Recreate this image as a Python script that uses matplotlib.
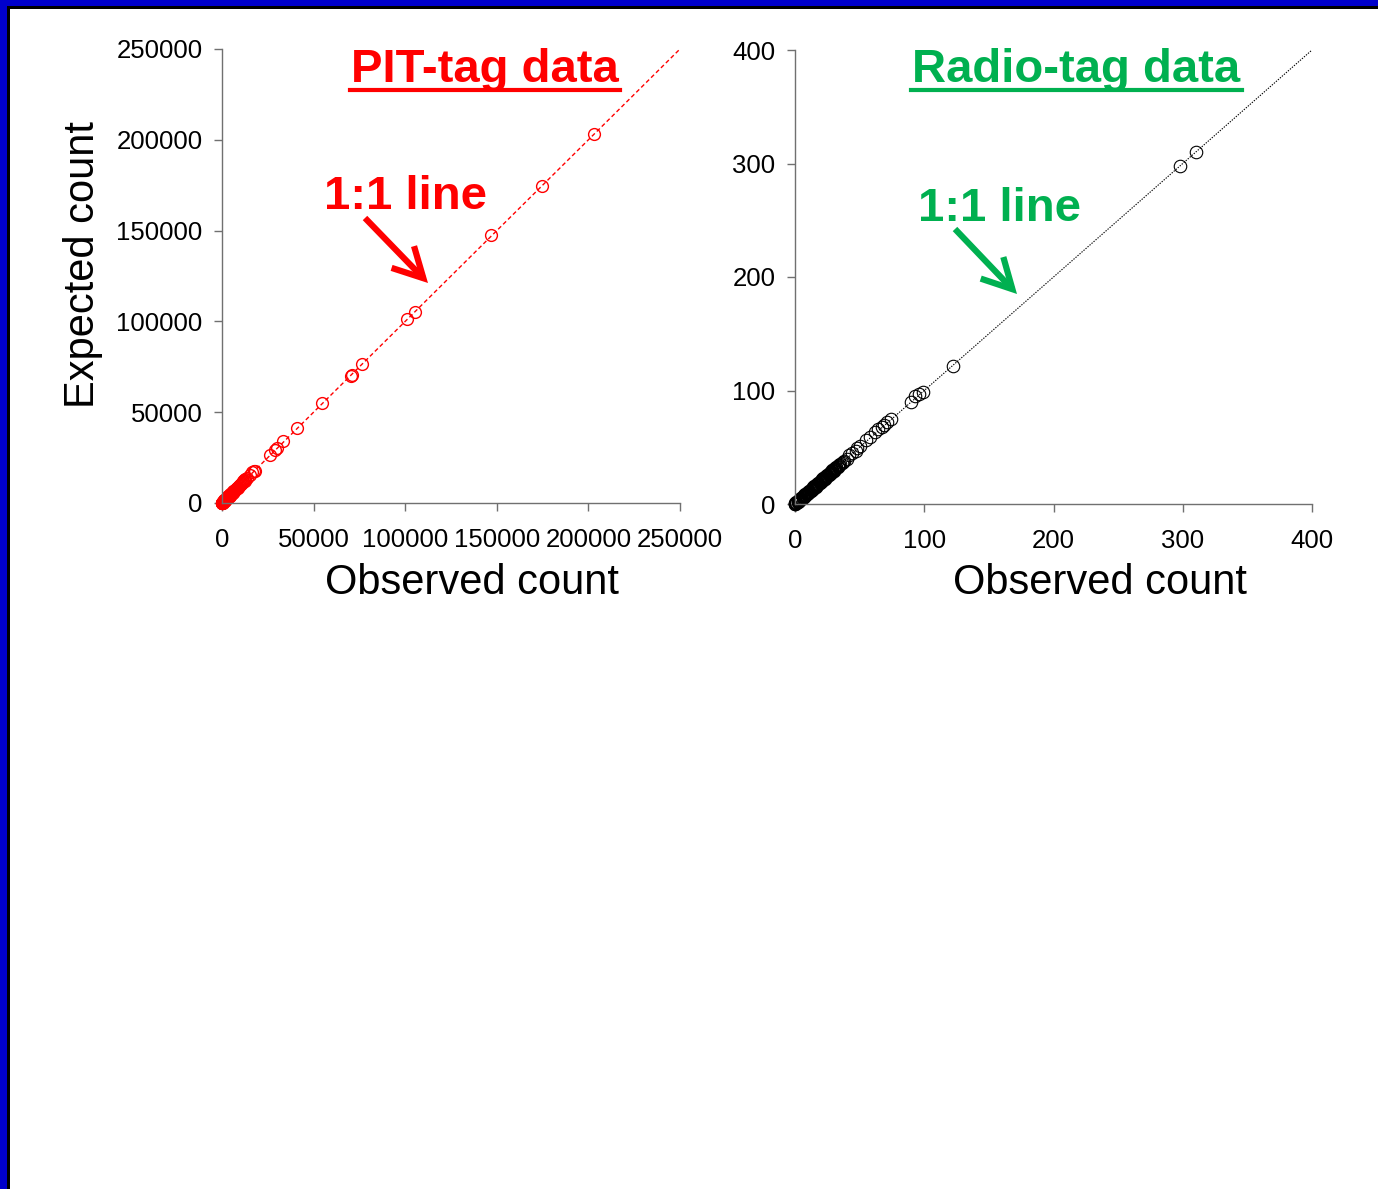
import matplotlib
matplotlib.use("Agg")
import matplotlib.pyplot as plt
from matplotlib.patches import Rectangle
from matplotlib.lines import Line2D

plt.rcParams['font.family'] = ['Liberation Sans', 'DejaVu Sans']

# PIT-tag data (observed vs expected counts)
pit_obs = [203000, 174700, 147000, 105300, 101000, 76400, 70900, 70300, 54600,
           40900, 33500, 30000, 29000, 26200, 17800, 17300, 16500, 15200, 13500,
           12800, 12000, 11400, 10800, 10200, 9600, 9100, 8600, 8100, 7600, 7100,
           6600, 6200, 5800, 5400, 5000, 4600, 4200, 3800, 3500, 3200, 2900, 2600,
           2300, 2000, 1800, 1600, 1400, 1200, 1000, 850, 700, 550, 420, 300, 200,
           120, 60, 20]
pit_exp = [203200, 174600, 147600, 105200, 101300, 76500, 70600, 70000, 55100,
           41300, 34100, 30300, 29300, 26400, 17600, 17500, 16800, 15500, 13900,
           13200, 12400, 11700, 11100, 10500, 9900, 9300, 8800, 8300, 7800, 7300,
           6800, 6400, 6000, 5600, 5200, 4800, 4400, 4000, 3600, 3300, 3000, 2700,
           2400, 2100, 1900, 1700, 1500, 1300, 1100, 900, 750, 600, 450, 320, 210,
           130, 70, 25]
# the many small PIT counts that pile up near the origin
pit_low_obs = [100, 300, 500, 700, 900, 1100, 1300, 1500, 1700, 1900, 2100, 2400,
               2700, 3000, 3300, 3600, 3900, 4300, 4700, 5100, 5500, 5900, 6300,
               6700, 7200, 7700, 8200, 8700, 9300, 9900, 10500, 11100, 11700, 12300,
               150, 450, 800, 1250, 1750, 2250, 2850, 3450, 4100, 4900, 5700, 6500]
pit_low_exp = [250, 150, 700, 500, 1100, 900, 1500, 1300, 1900, 1700, 2300, 2200,
               2900, 2800, 3500, 3400, 4100, 4100, 4900, 4900, 5700, 5700, 6500,
               6500, 7400, 7500, 8400, 8500, 9500, 9700, 10700, 10900, 11900, 12100,
               50, 600, 650, 1400, 1600, 2400, 2700, 3600, 3900, 5100, 5500, 6700]

# Radio-tag data
radio_obs = [310, 298, 122, 99, 96, 93, 90, 74, 71, 69, 67, 64, 62, 58, 55, 50,
             48, 47, 44, 42, 40, 38, 37, 36, 35, 34, 33, 32, 31, 30, 29, 28, 27,
             26, 25, 24, 23, 22, 21, 20, 19, 18, 17, 16, 15, 14, 13, 12, 11, 10,
             9, 8, 7, 6, 5, 4, 3, 2, 1, 0]
radio_exp = [310, 298, 122, 99, 97, 95, 90, 75, 72, 70, 68, 66, 63, 59, 56, 51,
             49, 47, 45, 43, 40, 38, 37, 36, 35, 34, 33, 32, 31, 30, 29, 28, 27,
             26, 25, 24, 23, 22, 21, 20, 19, 18, 17, 16, 15, 14, 13, 12, 11, 10,
             9, 8, 7, 6, 5, 4, 3, 2, 1, 0]
# repeated low radio counts with slightly different expectations
radio_low_obs = [0, 1, 2, 3, 4, 5, 6, 7, 8, 9, 10, 11, 12, 13, 14, 15, 16, 17, 18,
                 19, 20, 21, 22, 23, 24, 25, 26, 27, 28, 29, 30, 31, 32, 33, 34,
                 0, 1, 2, 3, 4, 5, 6, 7, 8, 9, 10, 11, 12, 13, 14, 15, 16, 17, 18,
                 19, 20, 21, 22, 23, 24, 25, 26, 27, 28, 29, 30]
radio_low_exp = [0.6, 1.5, 2.7, 3.6, 4.5, 5.7, 6.6, 7.5, 8.7, 9.6, 10.5, 11.7,
                 12.6, 13.5, 14.7, 15.6, 16.5, 17.7, 18.6, 19.5, 20.7, 21.6, 22.5,
                 23.7, 24.6, 25.5, 26.7, 27.6, 28.5, 29.7, 30.6, 31.5, 32.7, 33.6,
                 34.5,
                 0.3, 0.5, 1.4, 2.5, 3.3, 4.4, 5.5, 6.3, 7.4, 8.5, 9.3, 10.4, 11.5,
                 12.3, 13.4, 14.5, 15.3, 16.4, 17.5, 18.3, 19.4, 20.5, 21.3, 22.4,
                 23.5, 24.3, 25.4, 26.5, 27.3, 28.4, 29.5]

pit_ticks = [0, 50000, 100000, 150000, 200000, 250000]
radio_ticks = [0, 100, 200, 300, 400]

W, H = 1378, 1189
fig = plt.figure(figsize=(W / 100, H / 100), dpi=100)


def rect(x0, x1, ytop, ybot):
    return [x0 / W, 1 - ybot / H, (x1 - x0) / W, (ybot - ytop) / H]


def style_axes(ax, ticks):
    for s in ['top', 'right']:
        ax.spines[s].set_visible(False)
    for s in ['left', 'bottom']:
        ax.spines[s].set_color('#707070')
        ax.spines[s].set_linewidth(1.0)
    ax.set_xlim(ticks[0], ticks[-1])
    ax.set_ylim(ticks[0], ticks[-1])
    ax.set_xticks(ticks)
    ax.set_yticks(ticks)
    ax.set_xticklabels([str(t) for t in ticks])
    ax.set_yticklabels([str(t) for t in ticks])
    ax.tick_params(axis='both', direction='out', length=6, width=1,
                   color='#707070', labelsize=18.5)
    ax.tick_params(axis='x', pad=12)
    ax.tick_params(axis='y', pad=8)


# left panel
ax1 = fig.add_axes(rect(222, 680, 49, 503))
ax1.plot([0, 250000], [0, 250000], color='red', ls=(0, (3, 2)), lw=1.0)
ax1.plot(pit_obs, pit_exp, 'o', mfc='none', mec='red', ms=8.5, mew=1.0, clip_on=False)
ax1.plot(pit_low_obs, pit_low_exp, 'o', mfc='none', mec='red', ms=8.5, mew=1.0,
         clip_on=False)
style_axes(ax1, pit_ticks)

# right panel
ax2 = fig.add_axes(rect(795, 1312, 50, 504))
ax2.plot([0, 400], [0, 400], color='black', ls=(0, (1.2, 1.2)), lw=0.8)
ax2.plot(radio_obs, radio_exp, 'o', mfc='none', mec='black', ms=9, mew=0.8, clip_on=False)
ax2.plot(radio_low_obs, radio_low_exp, 'o', mfc='none', mec='black', ms=9, mew=0.8,
         clip_on=False)
style_axes(ax2, radio_ticks)

# axis labels
fig.text(472 / W, 1 - 583 / H, 'Observed count', fontsize=30, ha='center', va='center')
fig.text(1100 / W, 1 - 583 / H, 'Observed count', fontsize=30, ha='center', va='center')
fig.text(83 / W, 1 - 265 / H, 'Expected count', fontsize=30, ha='center', va='center',
         rotation=90)

# panel titles with underline
fig.text(485 / W, 1 - 82 / H, 'PIT-tag data', fontsize=34, fontweight='bold',
         color='red', ha='center', va='baseline')
fig.add_artist(Line2D([350 / W, 620 / W], [1 - 89.5 / H, 1 - 89.5 / H], color='red', lw=3))
green = '#00B050'
fig.text(1076 / W, 1 - 82 / H, 'Radio-tag data', fontsize=34, fontweight='bold',
         color=green, ha='center', va='baseline')
fig.add_artist(Line2D([911 / W, 1242 / W], [1 - 89.5 / H, 1 - 89.5 / H], color=green, lw=3))

# 1:1 line callouts
fig.text(405 / W, 1 - 209 / H, '1:1 line', fontsize=34, fontweight='bold',
         color='red', ha='center', va='baseline')
fig.text(1000 / W, 1 - 221 / H, '1:1 line', fontsize=34, fontweight='bold',
         color=green, ha='center', va='baseline')
arrow = dict(arrowstyle='->,head_length=0.85,head_width=0.45', lw=4.5,
             mutation_scale=25, shrinkA=0, shrinkB=0, joinstyle='miter',
             capstyle='butt')
ax1.annotate('', xy=(428, H - 283), xytext=(365, H - 218), xycoords='figure pixels',
             textcoords='figure pixels', arrowprops=dict(arrow, color='red'))
ax2.annotate('', xy=(1017, H - 294), xytext=(955, H - 229), xycoords='figure pixels',
             textcoords='figure pixels', arrowprops=dict(arrow, color=green))

# slide border (blue with black inner edge)
fig.add_artist(Rectangle((0, 1 - 6 / H), 1, 6 / H, transform=fig.transFigure,
                         color='#0000CC', lw=0))
fig.add_artist(Rectangle((0, 0), 7 / W, 1, transform=fig.transFigure,
                         color='#0000CC', lw=0))
fig.add_artist(Rectangle((7 / W, 1 - 9 / H), 1, 3 / H, transform=fig.transFigure,
                         color='black', lw=0))
fig.add_artist(Rectangle((7 / W, 0), 3 / W, 1 - 6 / H, transform=fig.transFigure,
                         color='black', lw=0))

fig.savefig('out.png', dpi=100)
